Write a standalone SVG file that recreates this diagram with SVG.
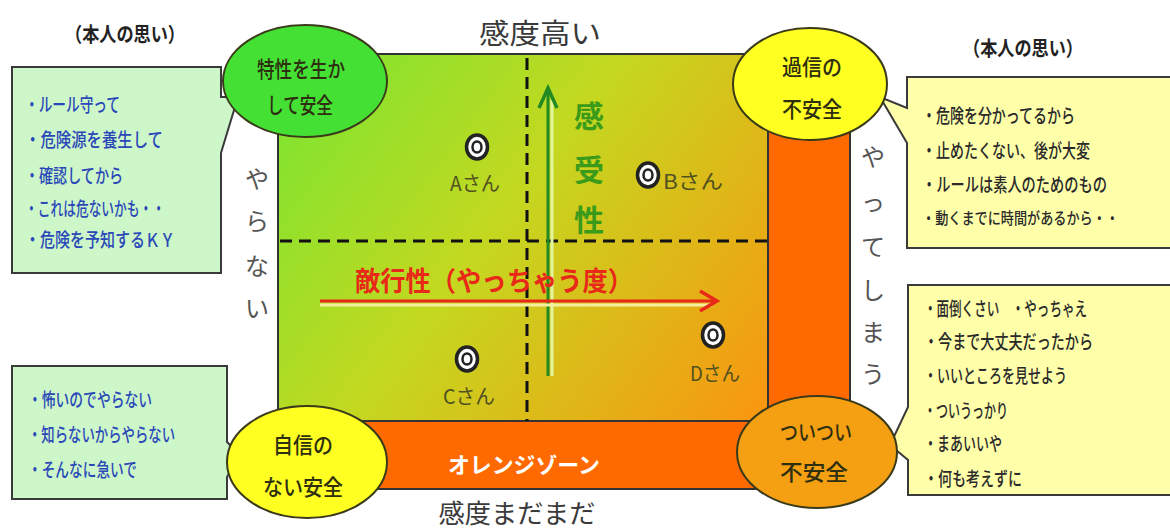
<svg xmlns="http://www.w3.org/2000/svg" width="1170" height="528" viewBox="0 0 1170 528">
<defs>
<style>
text{font-family:"Noto Sans CJK JP","Noto Sans CJK SC",sans-serif;dominant-baseline:central}
.hd{font-size:20px;font-weight:bold;fill:#222}
.ax{font-size:28px;fill:#3a3a3a;text-anchor:middle}
.vt{font-size:24px;fill:#555;text-anchor:middle}
.bl{font-size:19px;font-weight:500;fill:#2a48b8}
.dk{font-size:19px;font-weight:500;fill:#2a2a2a}
.el{font-size:22px;font-weight:500;fill:#2e2e10;text-anchor:middle}
.pl{font-size:20px;fill:#505020;text-anchor:middle}
.box{stroke:#3a3a3a;stroke-width:2}
.gbox{fill:#cdf7c8}
.ybox{fill:#ffffaa}
.ell{stroke:#3a3a1a;stroke-width:2}
.dash{stroke:#111;stroke-width:3;stroke-dasharray:12 7;fill:none}
.mk{fill:#fff;stroke:#222}
</style>
<linearGradient id="g" gradientUnits="userSpaceOnUse" x1="278" y1="54" x2="768" y2="421">
<stop offset="0" stop-color="#76e632"/>
<stop offset="0.45" stop-color="#c4d820"/>
<stop offset="1" stop-color="#fa9510"/>
</linearGradient>
</defs>
<rect width="1170" height="528" fill="#fff"/>

<g id="matrix">
<rect x="278" y="54" width="572" height="435" fill="#ff6a00" stroke="#333" stroke-width="2"/>
<rect x="278" y="54" width="490" height="367" fill="url(#g)" stroke="#333" stroke-width="2"/>
<text x="524" y="463" style="font-size:22px;font-weight:bold;fill:#fff;text-anchor:middle" textLength="152" lengthAdjust="spacingAndGlyphs">オレンジゾーン</text>
</g>

<g id="connectors">
<line class="dash" x1="527" y1="58" x2="527" y2="421"/>
<line class="dash" x1="280" y1="241" x2="768" y2="241"/>
<line x1="552" y1="100" x2="552" y2="376" stroke="#e4f5a0" stroke-width="3"/>
<line x1="548" y1="92" x2="548" y2="376" stroke="#228a22" stroke-width="3"/>
<path d="M539,108 L548,88 L557,108" fill="none" stroke="#228a22" stroke-width="3.5"/>
<line x1="320" y1="305" x2="712" y2="305" stroke="#f5f0a0" stroke-width="3"/>
<line x1="320" y1="301" x2="714" y2="301" stroke="#e82818" stroke-width="3"/>
<path d="M700,291 L717,301 L700,311" fill="none" stroke="#e82818" stroke-width="3.5"/>
</g>

<g id="axis-labels">
<text class="ax" x="540" y="32" textLength="122" lengthAdjust="spacingAndGlyphs">感度高い</text>
<text class="ax" x="517" y="511" style="font-size:26px" textLength="157" lengthAdjust="spacingAndGlyphs">感度まだまだ</text>
<text x="494" y="279" style="font-size:27px;font-weight:bold;fill:#e82818;text-anchor:middle" textLength="278" lengthAdjust="spacingAndGlyphs">敵行性（やっちゃう度）</text>
<g style="font-size:30px;font-weight:bold;fill:#3a9a1a">
<text x="589" y="114" text-anchor="middle">感</text>
<text x="589" y="168" text-anchor="middle">受</text>
<text x="589" y="218" text-anchor="middle">性</text>
</g>
<text class="vt" x="257" y="177">や</text>
<text class="vt" x="257" y="219">ら</text>
<text class="vt" x="257" y="264">な</text>
<text class="vt" x="257" y="306">い</text>
<text class="vt" x="873" y="155">や</text>
<text class="vt" x="873" y="200">っ</text>
<text class="vt" x="873" y="245">て</text>
<text class="vt" x="873" y="288">し</text>
<text class="vt" x="873" y="330">ま</text>
<text class="vt" x="873" y="372">う</text>
</g>

<g id="person-a">
<ellipse class="mk" cx="477" cy="147" rx="10.5" ry="12" stroke-width="3.5"/>
<ellipse class="mk" cx="477" cy="147" rx="4.5" ry="5.5" stroke-width="2.5"/>
<text class="pl" x="475" y="182" textLength="50" lengthAdjust="spacingAndGlyphs">Aさん</text>
</g>
<g id="person-b">
<ellipse class="mk" cx="648" cy="175" rx="10.5" ry="12" stroke-width="3.5"/>
<ellipse class="mk" cx="648" cy="175" rx="4.5" ry="5.5" stroke-width="2.5"/>
<text class="pl" x="693" y="180" textLength="60" lengthAdjust="spacingAndGlyphs">Bさん</text>
</g>
<g id="person-c">
<ellipse class="mk" cx="467" cy="359" rx="10.5" ry="12" stroke-width="3.5"/>
<ellipse class="mk" cx="467" cy="359" rx="4.5" ry="5.5" stroke-width="2.5"/>
<text class="pl" x="469" y="395" textLength="52" lengthAdjust="spacingAndGlyphs">Cさん</text>
</g>
<g id="person-d">
<ellipse class="mk" cx="713" cy="335" rx="10.5" ry="12" stroke-width="3.5"/>
<ellipse class="mk" cx="713" cy="335" rx="4.5" ry="5.5" stroke-width="2.5"/>
<text class="pl" x="715" y="372" textLength="50" lengthAdjust="spacingAndGlyphs">Dさん</text>
</g>

<g id="note-top-left">
<text class="hd" x="65" y="33" textLength="120" lengthAdjust="spacingAndGlyphs">（本人の思い）</text>
<path class="box gbox" d="M12,67 H221 V97 L238,97 L221,153 V273 H12 Z"/>
<text class="bl" x="25" y="103" textLength="95" lengthAdjust="spacingAndGlyphs">・ルール守って</text>
<text class="bl" x="25" y="138" textLength="138" lengthAdjust="spacingAndGlyphs">・危険源を養生して</text>
<text class="bl" x="25" y="174" textLength="98" lengthAdjust="spacingAndGlyphs">・確認してから</text>
<text class="bl" x="25" y="207" textLength="140" lengthAdjust="spacingAndGlyphs">・これは危ないかも・・</text>
<text class="bl" x="25" y="238" textLength="150" lengthAdjust="spacingAndGlyphs">・危険を予知するＫＹ</text>
</g>

<g id="note-top-right">
<text class="hd" x="963" y="47" textLength="120" lengthAdjust="spacingAndGlyphs">（本人の思い）</text>
<path class="box ybox" d="M907,77 H1172 V248 H907 V143 L880,97 L907,108 Z"/>
<text class="dk" x="922" y="114" textLength="153" lengthAdjust="spacingAndGlyphs">・危険を分かってるから</text>
<text class="dk" x="922" y="149" textLength="168" lengthAdjust="spacingAndGlyphs">・止めたくない、後が大変</text>
<text class="dk" x="922" y="183" textLength="185" lengthAdjust="spacingAndGlyphs">・ルールは素人のためのもの</text>
<text class="dk" x="922" y="217" style="font-size:16px" textLength="197" lengthAdjust="spacingAndGlyphs">・動くまでに時間があるから・・</text>
</g>

<g id="note-bottom-left">
<path class="box gbox" d="M12,366 H227 V442 L240,455 L227,477 V499 H12 Z"/>
<text class="bl" x="28" y="398" textLength="124" lengthAdjust="spacingAndGlyphs">・怖いのでやらない</text>
<text class="bl" x="28" y="433" textLength="147" lengthAdjust="spacingAndGlyphs">・知らないからやらない</text>
<text class="bl" x="28" y="468" textLength="109" lengthAdjust="spacingAndGlyphs">・そんなに急いで</text>
</g>

<g id="note-bottom-right">
<path class="box ybox" d="M908,285 H1172 V495 H908 V460 L890,445 L908,407 Z"/>
<text class="dk" x="924" y="307" textLength="163" lengthAdjust="spacingAndGlyphs">・面倒くさい　・やっちゃえ</text>
<text class="dk" x="924" y="340" textLength="169" lengthAdjust="spacingAndGlyphs">・今まで大丈夫だったから</text>
<text class="dk" x="924" y="374" textLength="143" lengthAdjust="spacingAndGlyphs">・いいところを見せよう</text>
<text class="dk" x="924" y="409" textLength="84" lengthAdjust="spacingAndGlyphs">・ついうっかり</text>
<text class="dk" x="924" y="442" textLength="78" lengthAdjust="spacingAndGlyphs">・まあいいや</text>
<text class="dk" x="924" y="477" textLength="98" lengthAdjust="spacingAndGlyphs">・何も考えずに</text>
</g>

<g id="zone-safe-strength">
<ellipse class="ell" cx="305" cy="81" rx="82" ry="56" fill="#44e034"/>
<text class="el" x="301" y="67" textLength="88" lengthAdjust="spacingAndGlyphs">特性を生か</text>
<text class="el" x="300" y="103" textLength="66" lengthAdjust="spacingAndGlyphs">して安全</text>
</g>
<g id="zone-overconfident">
<ellipse class="ell" cx="810" cy="84" rx="77" ry="56" fill="#ffff22"/>
<text class="el" x="812" y="65" textLength="60" lengthAdjust="spacingAndGlyphs">過信の</text>
<text class="el" x="812" y="107" textLength="60" lengthAdjust="spacingAndGlyphs">不安全</text>
</g>
<g id="zone-unconfident">
<ellipse class="ell" cx="307" cy="462" rx="80" ry="56" fill="#ffff22"/>
<text class="el" x="303" y="443" textLength="60" lengthAdjust="spacingAndGlyphs">自信の</text>
<text class="el" x="303" y="485" textLength="80" lengthAdjust="spacingAndGlyphs">ない安全</text>
</g>
<g id="zone-careless">
<ellipse class="ell" cx="817" cy="452" rx="80" ry="56" fill="#f5a012"/>
<text class="el" x="816" y="430" textLength="72" lengthAdjust="spacingAndGlyphs">ついつい</text>
<text class="el" x="814" y="470" textLength="68" lengthAdjust="spacingAndGlyphs">不安全</text>
</g>
</svg>
